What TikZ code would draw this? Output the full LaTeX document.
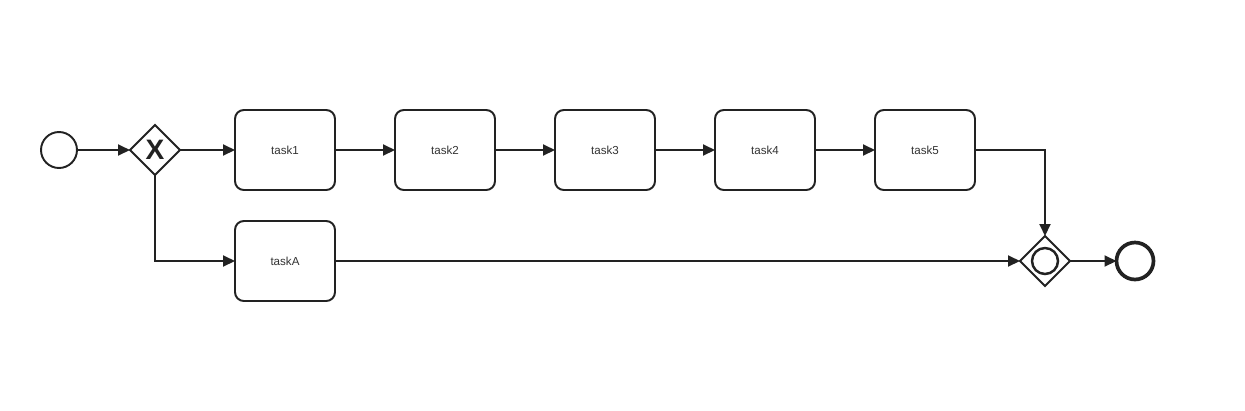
\documentclass[tikz,border=0pt]{standalone}
\usepackage{fontspec}
\setmainfont{Liberation Sans}
\usetikzlibrary{arrows.meta,shapes.geometric}
\definecolor{FlowInk}{HTML}{222222}
\definecolor{FlowText}{HTML}{333333}
\tikzset{
  every node/.style={font=\fontsize{6.6}{8}\selectfont, text=FlowText},
  task/.style={draw=FlowInk, line width=1.1pt, rounded corners=5pt, fill=white,
    minimum width=2cm, minimum height=1.6cm, inner sep=0pt, outer sep=0pt},
  event/.style={draw=FlowInk, line width=1.1pt, circle, fill=white,
    minimum size=0.72cm, inner sep=0pt, outer sep=0pt},
  endevent/.style={event, line width=2.1pt, minimum size=0.74cm},
  gateway/.style={draw=FlowInk, line width=1.1pt, diamond, aspect=1, fill=white,
    minimum size=1cm, inner sep=0pt, outer sep=0pt},
  flow/.style={-{Triangle[length=2.4mm,width=2.2mm]}, draw=FlowInk, line width=1.1pt},
}

\begin{document}
\begin{tikzpicture}[x=0.02cm, y=-0.02cm]
  \useasboundingbox (0,0) rectangle (1245,410);
  % events and gateways
  \node[event] (start) at (59,150) {};
  \node[gateway, font=\fontsize{16}{16}\selectfont\bfseries, text=FlowInk]
    (split) at (155,150) {X};
  \node[gateway] (join) at (1045,261) {};
  \node[draw=FlowInk, line width=1.4pt, circle, minimum size=0.52cm, inner sep=0pt]
    (joinmark) at (join) {};
  \node[endevent] (stop) at (1135,261) {};
  % upper branch
  \node[task] (task1) at (285,150) {task1};
  \node[task] (task2) at (445,150) {task2};
  \node[task] (task3) at (605,150) {task3};
  \node[task] (task4) at (765,150) {task4};
  \node[task] (task5) at (925,150) {task5};
  % lower branch
  \node[task] (taskA) at (285,261) {taskA};
  % sequence flows
  \draw[flow] (start) -- (split);
  \draw[flow] (split) -- (task1);
  \draw[flow] (task1) -- (task2);
  \draw[flow] (task2) -- (task3);
  \draw[flow] (task3) -- (task4);
  \draw[flow] (task4) -- (task5);
  \draw[flow] (split) |- (taskA);
  \draw[flow] (taskA) -- (join);
  \draw[flow] (task5) -| (join);
  \draw[flow] (join) -- (stop);
\end{tikzpicture}
\end{document}
